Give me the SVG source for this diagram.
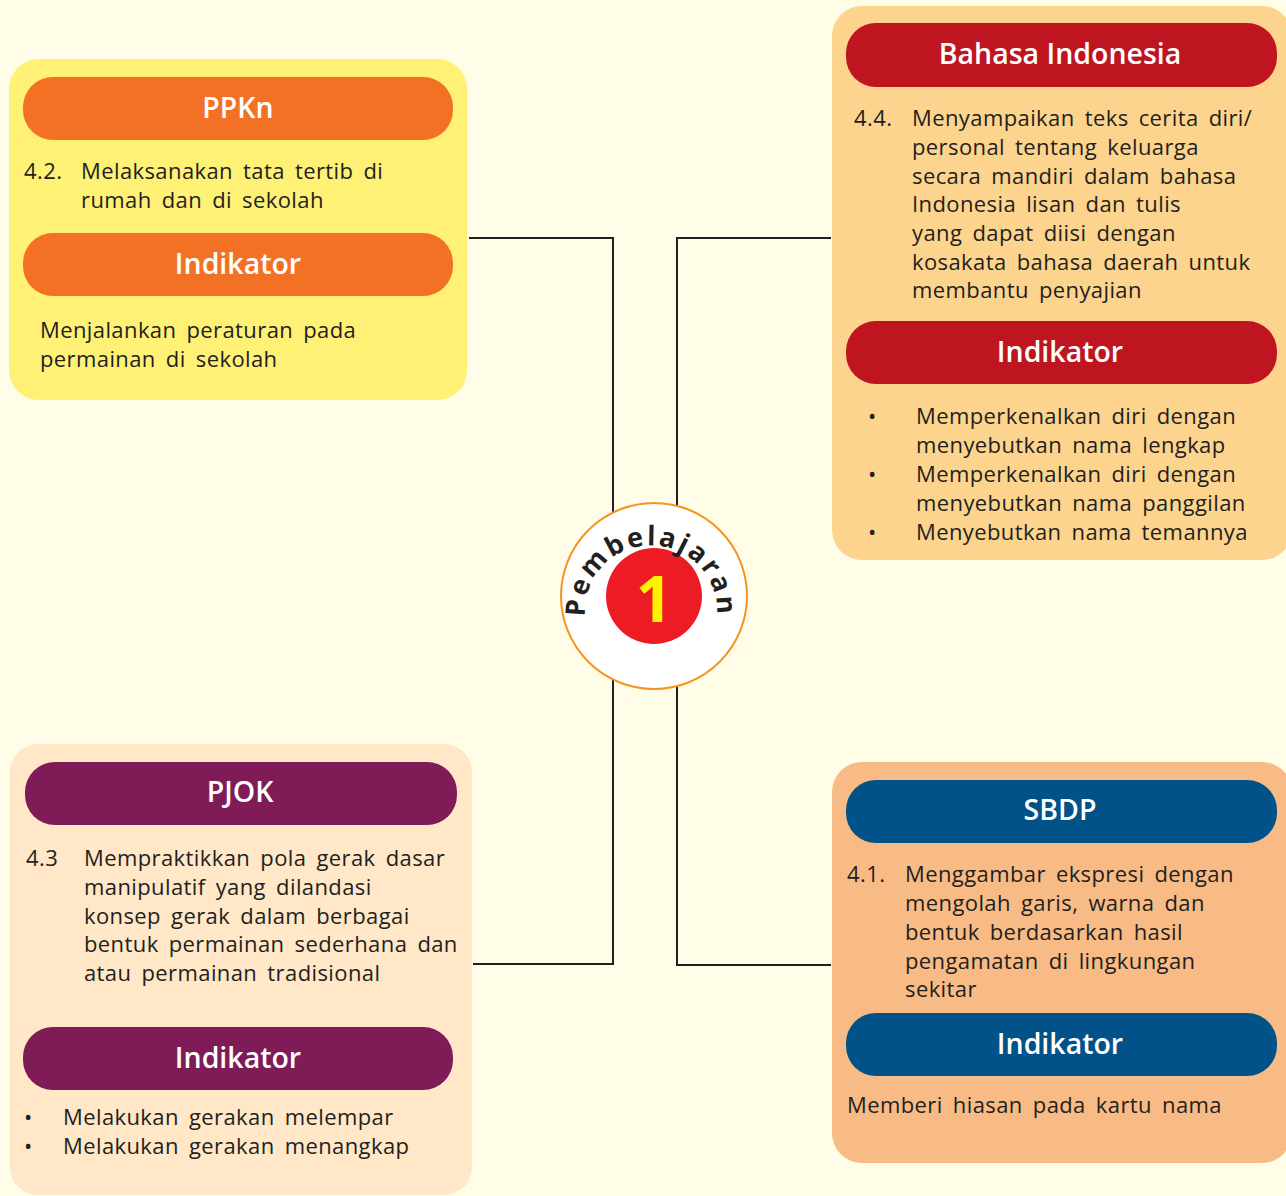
<svg xmlns="http://www.w3.org/2000/svg" width="1286" height="1196" viewBox="0 0 1286 1196">
<style>
text{font-family:"Open Sans","Noto Sans","DejaVu Sans",sans-serif;}
.hd{font-size:28.5px;font-weight:600;fill:#ffffff;text-anchor:middle;}
.tx{font-size:22px;fill:#231f20;letter-spacing:0.4px;word-spacing:4px;}
.ln{stroke:#231f20;stroke-width:2;fill:none;}
</style>
<defs>
<path id="arc" d="M 589.0 633.9 A 66 66 0 1 1 713.0 633.9"/>
</defs>
<rect x="0" y="0" width="1286" height="1196" fill="#fffce8"/>
<g id="connectors">
<polyline class="ln" points="469,238 613,238 613,964 473,964"/>
<polyline class="ln" points="831,238 677,238 677,965 831,965"/>
</g>
<g id="ppkn">
<rect x="9" y="59" width="458" height="341" rx="30" fill="#fff176"/>
<rect x="23" y="77" width="430" height="63" rx="30" fill="#f37124"/>
<text class="hd" x="238" y="118">PPKn</text>
<text class="tx" x="24" y="179">4.2.</text>
<text class="tx" x="81" y="179">Melaksanakan tata tertib di</text>
<text class="tx" x="81" y="208">rumah dan di sekolah</text>
<rect x="23" y="233" width="430" height="63" rx="30" fill="#f37124"/>
<text class="hd" x="238" y="274">Indikator</text>
<text class="tx" x="40" y="338">Menjalankan peraturan pada</text>
<text class="tx" x="40" y="367">permainan di sekolah</text>
</g>
<g id="bahasa">
<rect x="832" y="6" width="460" height="554" rx="30" fill="#fdd48d"/>
<rect x="846" y="23" width="431" height="64" rx="30" fill="#be1520"/>
<text class="hd" x="1060" y="64">Bahasa Indonesia</text>
<text class="tx" x="854" y="126">4.4.</text>
<text class="tx" x="912" y="126">Menyampaikan teks cerita diri/</text>
<text class="tx" x="912" y="155">personal tentang keluarga</text>
<text class="tx" x="912" y="184">secara mandiri dalam bahasa</text>
<text class="tx" x="912" y="212">Indonesia lisan dan tulis</text>
<text class="tx" x="912" y="241">yang dapat diisi dengan</text>
<text class="tx" x="912" y="270">kosakata bahasa daerah untuk</text>
<text class="tx" x="912" y="298">membantu penyajian</text>
<rect x="846" y="321" width="431" height="63" rx="30" fill="#be1520"/>
<text class="hd" x="1060" y="362">Indikator</text>
<text class="tx" x="868" y="424">•</text>
<text class="tx" x="916" y="424">Memperkenalkan diri dengan</text>
<text class="tx" x="916" y="453">menyebutkan nama lengkap</text>
<text class="tx" x="868" y="482">•</text>
<text class="tx" x="916" y="482">Memperkenalkan diri dengan</text>
<text class="tx" x="916" y="511">menyebutkan nama panggilan</text>
<text class="tx" x="868" y="540">•</text>
<text class="tx" x="916" y="540">Menyebutkan nama temannya</text>
</g>
<g id="sbdp">
<rect x="832" y="762" width="460" height="401" rx="30" fill="#f9bb85"/>
<rect x="846" y="780" width="431" height="63" rx="30" fill="#005288"/>
<text class="hd" x="1060" y="820">SBDP</text>
<text class="tx" x="847" y="882">4.1.</text>
<text class="tx" x="905" y="882">Menggambar ekspresi dengan</text>
<text class="tx" x="905" y="911">mengolah garis, warna dan</text>
<text class="tx" x="905" y="940">bentuk berdasarkan hasil</text>
<text class="tx" x="905" y="969">pengamatan di lingkungan</text>
<text class="tx" x="905" y="997">sekitar</text>
<rect x="846" y="1013" width="431" height="63" rx="30" fill="#005288"/>
<text class="hd" x="1060" y="1054">Indikator</text>
<text class="tx" x="847" y="1113">Memberi hiasan pada kartu nama</text>
</g>
<g id="pjok">
<rect x="10" y="744" width="462" height="451" rx="28" fill="#ffe7c8"/>
<rect x="25" y="762" width="432" height="63" rx="30" fill="#7f1b57"/>
<text class="hd" x="240" y="802">PJOK</text>
<text class="tx" x="26" y="866">4.3</text>
<text class="tx" x="84" y="866">Mempraktikkan pola gerak dasar</text>
<text class="tx" x="84" y="895">manipulatif yang dilandasi</text>
<text class="tx" x="84" y="924">konsep gerak dalam berbagai</text>
<text class="tx" x="84" y="952">bentuk permainan sederhana dan</text>
<text class="tx" x="84" y="981">atau permainan tradisional</text>
<rect x="23" y="1027" width="430" height="63" rx="30" fill="#7f1b57"/>
<text class="hd" x="238" y="1068">Indikator</text>
<text class="tx" x="24" y="1125">•</text>
<text class="tx" x="63" y="1125">Melakukan gerakan melempar</text>
<text class="tx" x="24" y="1154">•</text>
<text class="tx" x="63" y="1154">Melakukan gerakan menangkap</text>
</g>
<g id="pembelajaran">
<circle cx="654" cy="596" r="93" fill="#ffffff" stroke="#f7941d" stroke-width="2"/>
<circle cx="654" cy="596" r="48" fill="#ed1c24"/>
<text x="654" y="622" font-size="64" font-weight="700" fill="#fff200" text-anchor="middle">1</text>
<text font-size="27" font-weight="700" fill="#231f20" letter-spacing="2.5"><textPath href="#arc" startOffset="50%" text-anchor="middle">Pembelajaran</textPath></text>
</g>
</svg>
